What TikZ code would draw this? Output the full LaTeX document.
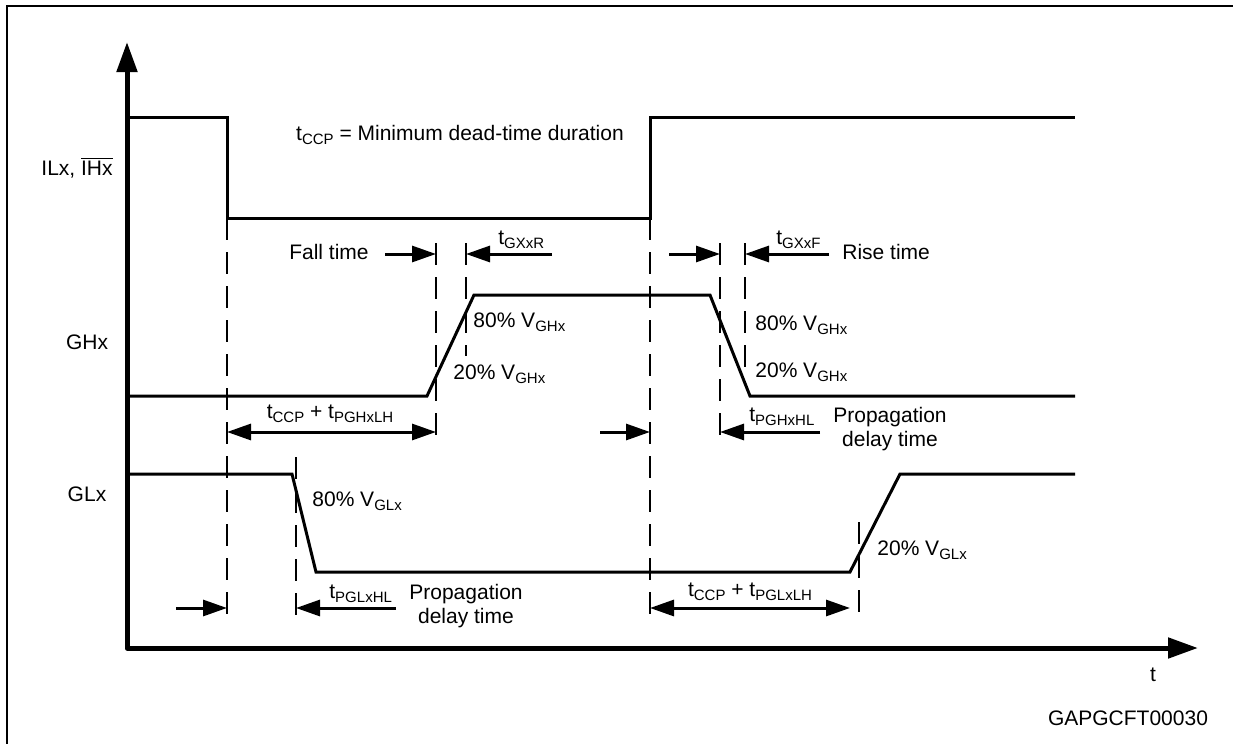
\documentclass[tikz,border=0pt]{standalone}
\usepackage{fontspec}
\setmainfont{Liberation Sans}
\usetikzlibrary{arrows.meta}
\newcommand{\sbs}[1]{\raisebox{-0.35ex}{\fontsize{7.5pt}{8pt}\selectfont #1}}
\begin{document}
\begin{tikzpicture}[x=0.5pt,y=-0.5pt,
  sig/.style={line width=1.5pt, line join=miter},
  axisline/.style={line width=2.5pt, line join=round,
    {Triangle[length=15pt,width=10pt]}-{Triangle[length=15pt,width=10pt]}},
  guide/.style={line width=0.7pt, dash pattern=on 11pt off 6pt},
  dim/.style={line width=1.5pt, -{Triangle[length=12pt,width=8pt]}},
  ddim/.style={line width=1.5pt, {Triangle[length=12pt,width=8pt]}-{Triangle[length=12pt,width=8pt]}},
  lbl/.style={font=\fontsize{10.5pt}{12pt}\selectfont, inner sep=0pt},
]
\useasboundingbox (0,0) rectangle (1233,744);
\fill[white] (0,0) rectangle (1233,744);
% frame
\draw[line width=1pt] (7,744) -- (7,6) -- (1233,6);
% axes
\coordinate (O) at (127,648);
\coordinate (ytip) at (127,42);
\coordinate (xtip) at (1198,648);
\draw[axisline] (ytip) -- (O) -- (xtip);
% signals
\draw[sig] (127,117) -- (227,117) -- (227,218) -- (650,218) -- (650,117) -- (1075,117);
\draw[sig] (127,396) -- (427,396) -- (474,295) -- (710,295) -- (750,396) -- (1075,396);
\draw[sig] (127,474) -- (292,474) -- (316,572) -- (850,572) -- (900,474) -- (1075,474);
% guide lines
\coordinate (gA1) at (227,218); \coordinate (gA2) at (227,622);
\coordinate (gB1) at (650,218); \coordinate (gB2) at (650,622);
\coordinate (gC1) at (436,243); \coordinate (gC2) at (436,445);
\coordinate (gD1) at (466,243); \coordinate (gD2) at (466,356);
\coordinate (gE1) at (720,243); \coordinate (gE2) at (720,445);
\coordinate (gF1) at (745,243); \coordinate (gF2) at (745,378);
\coordinate (gG1) at (296,457); \coordinate (gG2) at (296,622);
\coordinate (gH1) at (859,522); \coordinate (gH2) at (859,622);
\foreach \g in {A,B,C,D,E,F,G,H} \draw[guide] (g\g1) -- (g\g2);
% dimension arrows
\coordinate (a1s) at (385,254); \coordinate (a1e) at (436,254);
\coordinate (a2s) at (552,254); \coordinate (a2e) at (466,254);
\coordinate (a3s) at (669,254); \coordinate (a3e) at (720,254);
\coordinate (a4s) at (829,254); \coordinate (a4e) at (745,254);
\coordinate (a5s) at (227,432); \coordinate (a5e) at (436,432);
\coordinate (a6s) at (600,432); \coordinate (a6e) at (650,432);
\coordinate (a7s) at (820,432); \coordinate (a7e) at (720,432);
\coordinate (a8s) at (176,608); \coordinate (a8e) at (227,608);
\coordinate (a9s) at (396,608); \coordinate (a9e) at (296,608);
\coordinate (a10s) at (650,608); \coordinate (a10e) at (850,608);
\draw[dim] (a1s) -- (a1e);
\draw[dim] (a2s) -- (a2e);
\draw[dim] (a3s) -- (a3e);
\draw[dim] (a4s) -- (a4e);
\draw[ddim] (a5s) -- (a5e);
\draw[dim] (a6s) -- (a6e);
\draw[dim] (a7s) -- (a7e);
\draw[dim] (a8s) -- (a8e);
\draw[dim] (a9s) -- (a9e);
\draw[ddim] (a10s) -- (a10e);
% labels
\node[lbl] (tccp) at (460,135) {t\sbs{CCP} = Minimum dead-time duration};
\node[lbl,anchor=east] (ilx) at (113,168) {ILx, $\overline{\mbox{IHx}}$};
\node[lbl] (ghx) at (87,342) {GHx};
\node[lbl] (glx) at (87,494) {GLx};
\node[lbl] (fall) at (329,252) {Fall time};
\node[lbl,anchor=west] (tgr) at (498,240) {t\sbs{GXxR}};
\node[lbl,anchor=west] (tgf) at (776,240) {t\sbs{GXxF}};
\node[lbl,anchor=west] (rise) at (842,252) {Rise time};
\node[lbl,anchor=west] (l80a) at (473,322) {80\% V\sbs{GHx}};
\node[lbl,anchor=west] (l20a) at (453,374) {20\% V\sbs{GHx}};
\node[lbl,anchor=west] (l80b) at (755,325) {80\% V\sbs{GHx}};
\node[lbl,anchor=west] (l20b) at (755,372) {20\% V\sbs{GHx}};
\node[lbl] (d1) at (330,414) {t\sbs{CCP} + t\sbs{PGHxLH}};
\node[lbl,anchor=west] (tphl) at (749,417) {t\sbs{PGHxHL}};
\node[lbl,align=center] (pd1) at (890,429) {Propagation\\delay time};
\node[lbl,anchor=west] (l80c) at (312,501) {80\% V\sbs{GLx}};
\node[lbl,anchor=west] (l20c) at (877,550) {20\% V\sbs{GLx}};
\node[lbl,anchor=west] (tplhl) at (329,594) {t\sbs{PGLxHL}};
\node[lbl,align=center] (pd2) at (466,606) {Propagation\\delay time};
\node[lbl] (d2) at (750,592) {t\sbs{CCP} + t\sbs{PGLxLH}};
\node[lbl] (tlab) at (1153,675) {t};
\node[lbl] (code) at (1128,718) {GAPGCFT00030};
\end{tikzpicture}
\end{document}
